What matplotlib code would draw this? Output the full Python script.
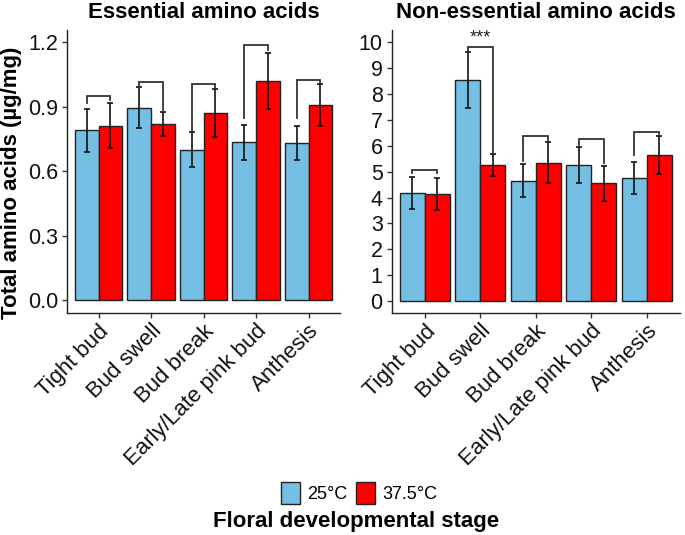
import numpy as np
import matplotlib
matplotlib.use("Agg")
import matplotlib.pyplot as plt
from matplotlib.patches import Patch

plt.rcParams['font.family'] = ['Liberation Sans', 'DejaVu Sans']

# data
stages = ['Tight bud', 'Bud swell', 'Bud break', 'Early/Late pink bud', 'Anthesis']
groups = ['25°C', '37.5°C']

ess_25 = [0.79, 0.895, 0.70, 0.734, 0.731]
ess_25_se = [0.10, 0.095, 0.082, 0.082, 0.081]
ess_37 = [0.812, 0.820, 0.871, 1.019, 0.908]
ess_37_se = [0.103, 0.055, 0.111, 0.131, 0.098]
# bracket: top, left leg end, right leg end
ess_br = [(0.948, 0.917, 0.929), (1.017, 0.994, 0.886), (1.006, 0.785, 0.986),
          (1.187, 0.847, 1.164), (1.025, 0.847, 1.010)]
ess_sig = ['', '', '', '', '']

non_25 = [4.17, 8.54, 4.65, 5.26, 4.75]
non_25_se = [0.63, 1.08, 0.64, 0.68, 0.61]
non_37 = [4.14, 5.26, 5.35, 4.55, 5.64]
non_37_se = [0.63, 0.41, 0.80, 0.68, 0.72]
non_br = [(5.06, 4.93, 4.93), (9.80, 9.67, 5.77), (6.38, 5.41, 6.22),
          (6.26, 6.03, 5.32), (6.55, 5.64, 6.46)]
non_sig = ['', '***', '', '', '']

c25 = '#74BFE3'
c37 = '#FF0000'

fig = plt.figure(figsize=(6.85, 5.35), dpi=100)
W, H = 685.0, 535.0
ax1 = fig.add_axes([67 / W, 1 - 313 / H, 273 / W, 283 / H])
ax2 = fig.add_axes([391.7 / W, 1 - 313 / H, 288.3 / W, 283 / H])


def panel(ax, m25, s25, m37, s37, br, sig, ylim, yticks, yfmt, title, sigoff):
    x = np.arange(1, len(stages) + 1)
    w = 0.45
    ax.bar(x - w / 2, m25, w, color=c25, edgecolor='#222222', linewidth=1.0, zorder=2)
    ax.bar(x + w / 2, m37, w, color=c37, edgecolor='#222222', linewidth=1.0, zorder=2)
    ax.errorbar(x - w / 2, m25, yerr=s25, fmt='none', ecolor='#111111',
                elinewidth=1.2, capsize=2.5, capthick=1.2, zorder=3)
    ax.errorbar(x + w / 2, m37, yerr=s37, fmt='none', ecolor='#111111',
                elinewidth=1.2, capsize=2.5, capthick=1.2, zorder=3)
    for i, (top, l, r) in enumerate(br):
        xl, xr = x[i] - w / 2, x[i] + w / 2
        ax.plot([xl, xl, xr, xr], [l, top, top, r], color='#333333', lw=1.3,
                solid_joinstyle='miter', zorder=4)
        if sig[i]:
            ax.text(x[i], top + sigoff, sig[i], ha='center', va='bottom',
                    fontsize=13, color='#222222')
    ax.set_xlim(0.4, 5.6)
    ax.set_ylim(*ylim)
    ax.set_yticks(yticks)
    ax.set_yticklabels([yfmt.format(v) for v in yticks])
    ax.set_xticks(x)
    ax.set_xticklabels(stages, rotation=45, ha='right', va='top',
                       rotation_mode='anchor')
    for s in ['top', 'right']:
        ax.spines[s].set_visible(False)
    for s in ['left', 'bottom']:
        ax.spines[s].set_linewidth(1.0)
        ax.spines[s].set_color('#222222')
    ax.tick_params(axis='both', direction='out', length=3.5, width=1.0,
                   color='#333333', labelcolor='#111111')
    ax.tick_params(axis='y', labelsize=15.5, pad=3)
    ax.tick_params(axis='x', labelsize=16, pad=2)
    bb = ax.get_position()
    fig.text(bb.x0 + bb.width / 2, 1 - 12 / H, title, ha='center', va='center',
             fontsize=16, fontweight='bold')


panel(ax1, ess_25, ess_25_se, ess_37, ess_37_se, ess_br, ess_sig,
      (-0.06, 1.257), [0.0, 0.3, 0.6, 0.9, 1.2], '{:.1f}', 'Essential amino acids', 0.02)
panel(ax2, non_25, non_25_se, non_37, non_37_se, non_br, non_sig,
      (-0.464, 10.475), list(range(0, 11)), '{:d}', 'Non-essential amino acids', 0.05)

fig.text(12 / W, 1 - 183 / H, 'Total amino acids (µg/mg)', rotation=90,
         ha='center', va='center', fontsize=16, fontweight='bold')
fig.text(356 / W, 1 - 521 / H, 'Floral developmental stage', ha='center',
         va='center', fontsize=16, fontweight='bold')

handles = [Patch(facecolor=c25, edgecolor='#222222', linewidth=1.0),
           Patch(facecolor=c37, edgecolor='#222222', linewidth=1.0)]
fig.legend(handles, groups, loc='center', bbox_to_anchor=(359 / W, 1 - 493 / H),
           ncol=2, frameon=False, fontsize=13, handlelength=1.05, handleheight=1.45,
           handletextpad=0.4, columnspacing=0.5, borderpad=0)

fig.savefig('out.png', dpi=100)
